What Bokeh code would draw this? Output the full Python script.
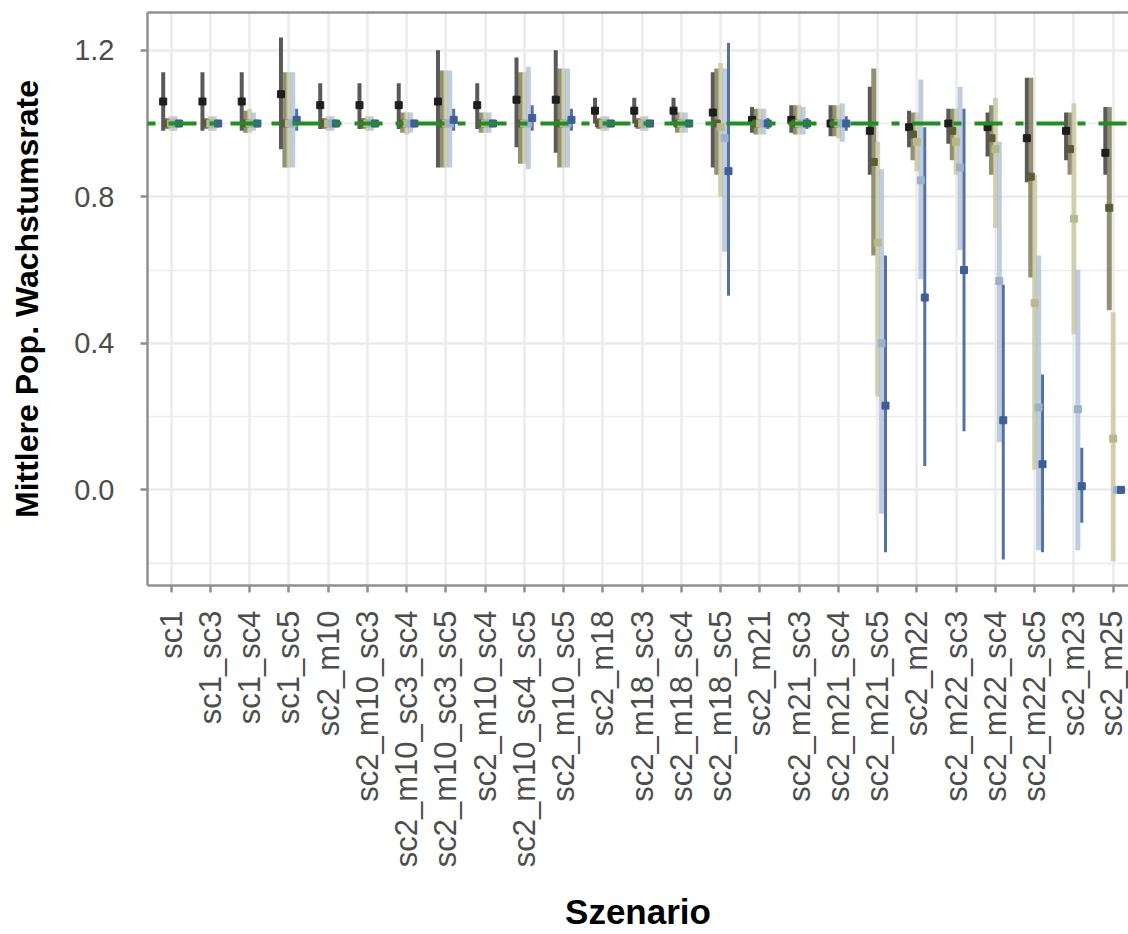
import math
from bokeh.plotting import figure
from bokeh.models import Range1d, FixedTicker, LinearAxis, Span, ColumnDataSource, PrintfTickFormatter
from bokeh.transform import dodge
from bokeh.embed import file_html
from bokeh.resources import INLINE

categories = ["sc1", "sc1_sc3", "sc1_sc4", "sc1_sc5", "sc2_m10", "sc2_m10_sc3",
              "sc2_m10_sc3_sc4", "sc2_m10_sc3_sc5", "sc2_m10_sc4", "sc2_m10_sc4_sc5",
              "sc2_m10_sc5", "sc2_m18", "sc2_m18_sc3", "sc2_m18_sc4", "sc2_m18_sc5",
              "sc2_m21", "sc2_m21_sc3", "sc2_m21_sc4", "sc2_m21_sc5", "sc2_m22",
              "sc2_m22_sc3", "sc2_m22_sc4", "sc2_m22_sc5", "sc2_m23", "sc2_m25"]

# series 1 (dark grey)
mean_s1 = [1.06, 1.06, 1.06, 1.08, 1.05, 1.05, 1.05, 1.06, 1.05, 1.065, 1.065, 1.035, 1.035,
           1.035, 1.03, 1.01, 1.01, 1.00, 0.98, 0.99, 1.00, 0.99, 0.96, 0.98, 0.92]
lo_s1 = [0.98, 0.98, 0.98, 0.93, 0.985, 0.985, 0.985, 0.88, 0.985, 0.935, 0.92, 1.00, 1.00,
         1.00, 0.88, 0.975, 0.975, 0.965, 0.86, 0.935, 0.945, 0.91, 0.84, 0.90, 0.86]
hi_s1 = [1.14, 1.14, 1.14, 1.235, 1.11, 1.11, 1.11, 1.20, 1.11, 1.18, 1.20, 1.07, 1.07,
         1.07, 1.14, 1.045, 1.05, 1.05, 1.10, 1.035, 1.04, 1.03, 1.125, 1.03, 1.045]
# series 2 (dark olive)
mean_s2 = [1.00, 1.00, 1.00, 1.00, 1.00, 1.00, 1.00, 1.00, 1.00, 1.00, 1.00, 1.00, 1.00,
           1.00, 1.00, 1.00, 1.00, 1.00, 0.895, 0.97, 0.98, 0.96, 0.855, 0.93, 0.77]
lo_s2 = [0.985, 0.985, 0.975, 0.88, 0.985, 0.985, 0.975, 0.88, 0.975, 0.89, 0.88, 0.985, 0.985,
         0.975, 0.86, 0.97, 0.97, 0.965, 0.64, 0.90, 0.90, 0.86, 0.58, 0.86, 0.49]
hi_s2 = [1.015, 1.015, 1.035, 1.14, 1.015, 1.015, 1.03, 1.145, 1.03, 1.14, 1.15, 1.015, 1.015,
         1.03, 1.15, 1.04, 1.05, 1.05, 1.15, 1.03, 1.04, 1.05, 1.125, 1.03, 1.045]
# series 3 (khaki)
mean_s3 = [1.00, 1.00, 1.00, 1.00, 1.00, 1.00, 1.00, 1.00, 1.00, 1.00, 1.00, 1.00, 1.00,
           1.00, 0.99, 1.00, 1.00, 1.00, 0.675, 0.95, 0.95, 0.93, 0.51, 0.74, 0.14]
lo_s3 = [0.98, 0.98, 0.975, 0.88, 0.98, 0.98, 0.97, 0.88, 0.975, 0.89, 0.88, 0.98, 0.98,
         0.975, 0.80, 0.97, 0.97, 0.96, 0.255, 0.87, 0.86, 0.715, 0.055, 0.425, -0.195]
hi_s3 = [1.02, 1.02, 1.04, 1.14, 1.02, 1.02, 1.03, 1.145, 1.03, 1.14, 1.15, 1.02, 1.02,
         1.03, 1.165, 1.04, 1.05, 1.05, 0.95, 1.03, 1.04, 1.07, 0.86, 1.055, 0.485]
# series 4 (light blue)
mean_s4 = [1.00, 1.00, 1.00, 1.00, 1.00, 1.00, 1.00, 1.00, 1.00, 1.00, 1.00, 1.00, 1.00,
           1.00, 0.96, 1.00, 1.00, 1.00, 0.40, 0.845, 0.88, 0.57, 0.225, 0.22, 0.00]
lo_s4 = [0.98, 0.98, 0.98, 0.88, 0.98, 0.98, 0.975, 0.88, 0.975, 0.875, 0.88, 0.98, 0.98,
         0.975, 0.65, 0.97, 0.97, 0.95, -0.065, 0.575, 0.655, 0.13, -0.165, -0.165, -0.01]
hi_s4 = [1.02, 1.02, 1.03, 1.14, 1.02, 1.02, 1.03, 1.145, 1.03, 1.155, 1.15, 1.02, 1.02,
         1.03, 1.15, 1.04, 1.045, 1.055, 0.875, 1.12, 1.10, 0.95, 0.64, 0.60, 0.01]
# series 5 (steel blue)
mean_s5 = [1.00, 1.00, 1.00, 1.01, 1.00, 1.00, 1.00, 1.01, 1.00, 1.015, 1.01, 1.00, 1.00,
           1.00, 0.87, 1.00, 1.00, 1.00, 0.23, 0.525, 0.60, 0.19, 0.07, 0.01, 0.00]
lo_s5 = [0.99, 0.99, 0.99, 0.98, 0.99, 0.99, 0.99, 0.98, 0.99, 0.98, 0.98, 0.99, 0.99,
         0.99, 0.53, 0.985, 0.985, 0.98, -0.17, 0.065, 0.16, -0.19, -0.17, -0.09, -0.005]
hi_s5 = [1.01, 1.01, 1.01, 1.04, 1.01, 1.01, 1.01, 1.04, 1.01, 1.05, 1.04, 1.01, 1.01,
         1.01, 1.22, 1.015, 1.015, 1.02, 0.64, 0.99, 1.04, 0.56, 0.315, 0.115, 0.005]

reference_value = 1.0

series = [
    (mean_s1, lo_s1, hi_s1),
    (mean_s2, lo_s2, hi_s2),
    (mean_s3, lo_s3, hi_s3),
    (mean_s4, lo_s4, hi_s4),
    (mean_s5, lo_s5, hi_s5),
]
colors = ["#2f2f2f", "#6d6c45", "#c6c59c", "#a9bcd4", "#4a6a9c"]
point_colors = ["#1e1e1e", "#5c5b38", "#b9b88c", "#9bb1cc", "#3f5f94"]
widths = [4, 5, 5, 5, 3]
alphas = [0.8, 0.75, 0.75, 0.75, 0.95]
offsets = [-0.2, -0.1, 0.0, 0.1, 0.2]

FONT = "Liberation Sans"
GRID = "#EBEBEB"
BORDER = "#8f8f8f"

p = figure(width=1128, height=934, output_backend="svg", toolbar_location=None,
           x_range=Range1d(-0.6, 24.39), y_range=Range1d(-0.261, 1.303),
           min_border_left=147, min_border_right=0, min_border_top=12, min_border_bottom=347)
p.outline_line_color = None
p.background_fill_color = "white"
p.border_fill_color = "white"

p.xaxis.ticker = FixedTicker(ticks=list(range(len(categories))))
p.xaxis.major_label_overrides = {i: c for i, c in enumerate(categories)}
p.xaxis.major_label_orientation = math.pi / 2
p.yaxis.ticker = FixedTicker(ticks=[0.0, 0.4, 0.8, 1.2], minor_ticks=[-0.2, 0.2, 0.6, 1.0])
p.yaxis.formatter = PrintfTickFormatter(format="%.1f")

p.xgrid.grid_line_color = GRID
p.xgrid.grid_line_width = 2.5
p.ygrid.grid_line_color = GRID
p.ygrid.grid_line_width = 2.5
p.ygrid.minor_grid_line_color = GRID
p.ygrid.minor_grid_line_width = 1.3

for ax in (p.xaxis[0], p.yaxis[0]):
    ax.axis_line_color = BORDER
    ax.axis_line_width = 2.5
    ax.major_tick_line_color = BORDER
    ax.major_tick_line_width = 2.5
    ax.major_tick_in = 0
    ax.major_tick_out = 7
    ax.minor_tick_line_color = None
    ax.major_label_text_font = FONT
    ax.major_label_text_color = "#4d4d4d"
    ax.axis_label_text_font = FONT
    ax.axis_label_text_font_style = "bold"
    ax.axis_label_text_color = "black"

p.yaxis.axis_label = "Mittlere Pop. Wachstumsrate"
p.yaxis.major_label_text_font_size = "29px"
p.yaxis.axis_label_text_font_size = "32px"
p.yaxis.major_label_standoff = 26
p.yaxis.axis_label_standoff = 26
p.xaxis.axis_label = "Szenario"
p.xaxis.major_label_text_font_size = "31px"
p.xaxis.axis_label_text_font_size = "35px"
p.xaxis.major_label_standoff = 18
p.xaxis.axis_label_standoff = 22

# top border of the panel
top_axis = LinearAxis(ticker=FixedTicker(ticks=[]), axis_line_color=BORDER, axis_line_width=2.5,
                      major_tick_line_color=None, minor_tick_line_color=None,
                      major_label_text_font_size="0px", major_label_standoff=0,
                      major_tick_out=0, major_tick_in=0)
p.add_layout(top_axis, "above")

sources = []
for k, (m, lo, hi) in enumerate(series):
    src = ColumnDataSource(dict(xi=list(range(len(categories))), cat=categories, m=m, lo=lo, hi=hi))
    sources.append(src)
    p.segment(x0=dodge("xi", offsets[k]), y0="lo", x1=dodge("xi", offsets[k]), y1="hi",
              source=src, line_color=colors[k], line_width=widths[k], line_alpha=alphas[k])

p.add_layout(Span(location=reference_value, dimension="width", line_color="#1f8f1f",
                  line_width=4, line_dash="8 13 28 13"))

for k, src in enumerate(sources):
    p.scatter(x=dodge("xi", offsets[k]), y="m", source=src, marker="square", size=7,
              fill_color=point_colors[k], line_color=point_colors[k])

open("out.html", "w").write(file_html(p, INLINE))
